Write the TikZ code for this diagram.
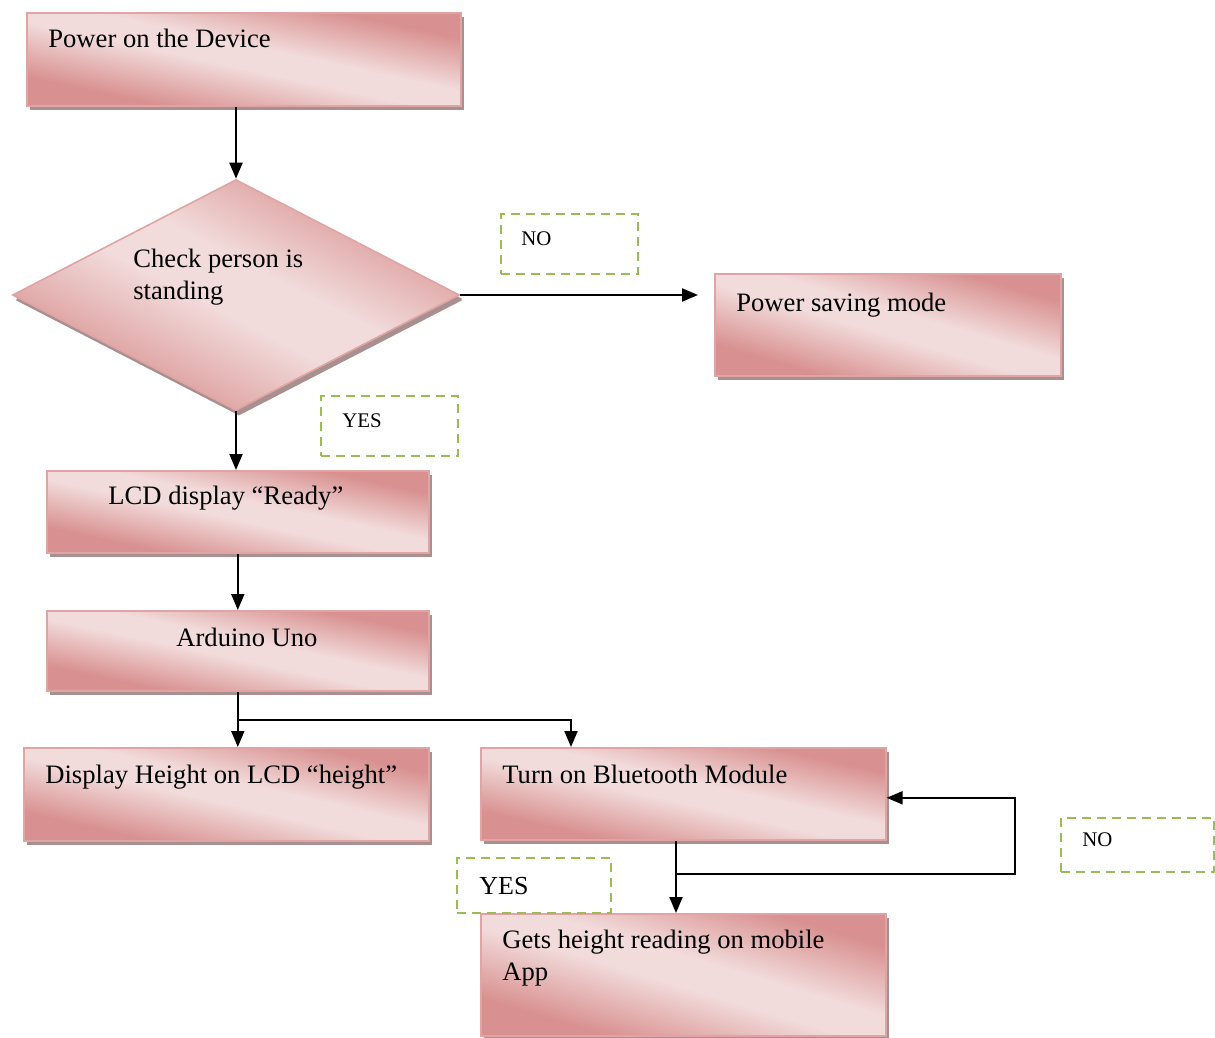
\documentclass[tikz,border=0pt]{standalone}
\usepackage{fontspec}
\setmainfont{Liberation Serif}
\usetikzlibrary{shapes.geometric,shadows,arrows.meta,calc}
\definecolor{pinkD}{RGB}{216,145,144}
\definecolor{pinkL}{RGB}{242,219,219}
\definecolor{pinkB}{RGB}{224,164,164}
\definecolor{shad}{RGB}{168,144,144}
\definecolor{lblgreen}{RGB}{155,187,89}
\pgfdeclareverticalshading{pinkdiag}{100bp}{color(0bp)=(pinkD); color(16bp)=(pinkD); color(45bp)=(pinkL); color(58bp)=(pinkL); color(86bp)=(pinkD); color(100bp)=(pinkD)}
\makeatletter
\newcommand\pinkgradfill{%
  \pgfpointanchor{path picture bounding box}{south west}%
  \edef\pgx@a{\the\pgf@x}\edef\pgy@a{\the\pgf@y}%
  \pgfpointanchor{path picture bounding box}{north east}%
  \edef\pgx@b{\the\pgf@x}\edef\pgy@b{\the\pgf@y}%
  \pgfmathsetmacro\pg@w{(\pgx@b-\pgx@a)/70.5}%
  \pgfmathsetmacro\pg@h{(\pgy@b-\pgy@a)/70.5}%
  \pgfmathsetmacro\pg@cx{(\pgx@b+\pgx@a)/2}%
  \pgfmathsetmacro\pg@cy{(\pgy@b+\pgy@a)/2}%
  \begin{pgfscope}%
    \pgftransformshift{\pgfpoint{\pg@cx pt}{\pg@cy pt}}%
    \pgftransformxscale{\pg@w}%
    \pgftransformyscale{\pg@h}%
    \pgftransformrotate{-45}%
    \pgflowlevelsynccm
    \pgfuseshading{pinkdiag}%
  \end{pgfscope}}
\makeatother
\begin{document}
\begin{tikzpicture}[x=0.5pt,y=-0.5pt,
  pinkfill/.style={draw=pinkB, line width=0.8pt, fill=pinkL, path picture={\pinkgradfill},
    drop shadow={shadow xshift=1.6pt, shadow yshift=-2pt, fill=shad, opacity=1}},
  procbox/.style={pinkfill, rectangle, inner sep=0pt, anchor=north west},
  decbox/.style={pinkfill, diamond, inner sep=0pt, anchor=center,
    drop shadow={shadow xshift=1.5pt, shadow yshift=-2.6pt, fill=shad, opacity=1}},
  lblbox/.style={rectangle, draw=lblgreen, line width=1pt, dash pattern=on 4.5pt off 3pt, inner sep=0pt, anchor=north west},
  txt/.style={anchor=base west, inner sep=0pt, font=\fontsize{13.3}{16}\selectfont},
  txtml/.style={anchor=north west, inner sep=0pt, align=left, font=\fontsize{13.3}{16}\selectfont},
  lbltxt/.style={anchor=base west, inner sep=0pt, font=\fontsize{10.4}{12}\selectfont},
  arr/.style={line width=1pt, -{Triangle[length=8pt,width=6.5pt]}},
  ln/.style={line width=1pt}]
\useasboundingbox (0,0) rectangle (1215,1038);

% process boxes
\node[procbox, minimum width=217pt, minimum height=46.5pt] (pwr) at (26,12) {};
\node[decbox, minimum width=223.5pt, minimum height=115.5pt] (dia) at (236,295) {};
\node[procbox, minimum width=173pt, minimum height=51pt] (psm) at (714,273) {};
\node[procbox, minimum width=191pt, minimum height=41pt] (lcd) at (46,470) {};
\node[procbox, minimum width=191pt, minimum height=40pt] (ard) at (46,610) {};
\node[procbox, minimum width=202.5pt, minimum height=46.5pt] (disp) at (23,747) {};
\node[procbox, minimum width=202.5pt, minimum height=46pt] (bt) at (480,747) {};
\node[procbox, minimum width=202.5pt, minimum height=61pt] (gets) at (480,913) {};

% dashed label boxes
\node[lblbox, minimum width=68.5pt, minimum height=30pt] (no1) at (500,213) {};
\node[lblbox, minimum width=68.5pt, minimum height=30pt] (yes1) at (320,395) {};
\node[lblbox, minimum width=76.5pt, minimum height=27pt] (no2) at (1060,817) {};
\node[lblbox, minimum width=77pt, minimum height=27.5pt] (yes2) at (456,857) {};

% texts
\node[txt] (t1) at (48,48) {Power on the Device};
\node[txtml] (t2) at (133,249) {Check person is\\standing};
\node[lbltxt] (t3) at (521,245) {NO};
\node[txt] (t4) at (736,311) {Power saving mode};
\node[lbltxt] (t5) at (342,427) {YES};
\node[txt] (t6) at (108,504) {LCD display “Ready”};
\node[txt] (t7) at (176,646) {Arduino Uno};
\node[txt] (t8) at (45,783) {Display Height on LCD “height”};
\node[txt] (t9) at (502,783) {Turn on Bluetooth Module};
\node[lbltxt] (t10) at (1082,846) {NO};
\node[txt, font=\fontsize{13}{16}\selectfont] (t11) at (479,894) {YES};
\node[txtml] (t12) at (502,930) {Gets height reading on mobile\\App};

% connectors
\draw[arr] (dia.north |- pwr.south) -- (dia.north);
\draw[arr, shorten >=8pt] (dia.east) -- (dia.east -| psm.west);
\draw[arr] (dia.south) -- (dia.south |- lcd.north);
\draw[arr] (lcd.south) -- (lcd.south |- ard.north);
\coordinate (br) at ($(ard.south)+(0,28)$);
\draw[arr] (ard.south) -- (ard.south |- disp.north);
\draw[arr] (br) -| ($(bt.north west)+(91,0)$);
\coordinate (bts) at ($(bt.south west)+(196,0)$);
\draw[arr] (bts) -- (bts |- gets.north);
\coordinate (lpj) at ($(bts)+(0,33)$);
\coordinate (lpc) at ($(lpj)+(339,0)$);
\draw[arr] (lpj) -- (lpc) |- ($(bt.east)+(0,4)$);
\end{tikzpicture}
\end{document}
